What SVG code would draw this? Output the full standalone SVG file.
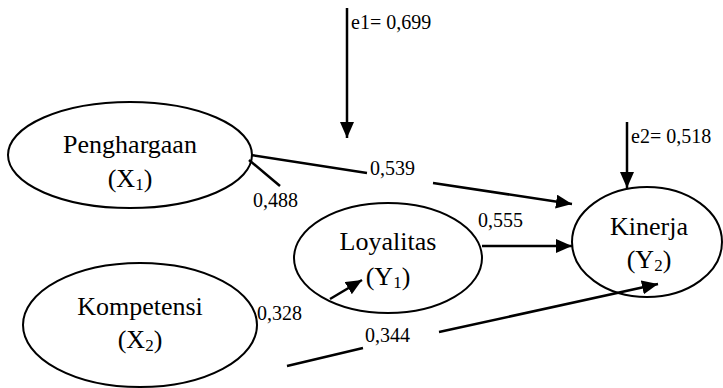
<svg xmlns="http://www.w3.org/2000/svg" width="723" height="388" viewBox="0 0 723 388">
<style>
.node{fill:none;stroke:#000;stroke-width:2}
.t{font-size:26px;fill:#000;text-anchor:middle}
.sub{font-size:17px}
.lbl{font-size:20px;fill:#000}
.c{stroke:#000;stroke-width:2.5;fill:none}
</style>
<defs>
<marker id="ah" markerUnits="userSpaceOnUse" markerWidth="17" markerHeight="15" refX="16" refY="7" orient="auto">
<path d="M0,0 L16,7 L0,14 z" fill="#000"/>
</marker>
</defs>
<rect width="723" height="388" fill="#fff"/>
<g font-family="Liberation Serif, serif">
<g id="penghargaan">
<ellipse class="node" cx="130" cy="155" rx="122" ry="53"/>
<text class="t" x="130" y="153">Penghargaan</text>
<text class="t" x="130" y="187">(X<tspan class="sub" dy="3">1</tspan><tspan dy="-3">)</tspan></text>
</g>
<g id="kompetensi">
<ellipse class="node" cx="140" cy="325" rx="117" ry="62"/>
<text class="t" x="140" y="315">Kompetensi</text>
<text class="t" x="140" y="348">(X<tspan class="sub" dy="3">2</tspan><tspan dy="-3">)</tspan></text>
</g>
<g id="loyalitas">
<ellipse class="node" cx="388" cy="258" rx="94" ry="55"/>
<text class="t" x="388" y="250">Loyalitas</text>
<text class="t" x="388" y="285">(Y<tspan class="sub" dy="3">1</tspan><tspan dy="-3">)</tspan></text>
</g>
<g id="kinerja">
<ellipse class="node" cx="647" cy="242" rx="75" ry="55"/>
<text class="t" x="649" y="235">Kinerja</text>
<text class="t" x="649" y="268">(Y<tspan class="sub" dy="3">2</tspan><tspan dy="-3">)</tspan></text>
</g>
<g id="connectors">
<line class="c" x1="347" y1="8" x2="347" y2="138" marker-end="url(#ah)"/>
<line class="c" x1="627" y1="122" x2="627" y2="188" marker-end="url(#ah)"/>
<line class="c" x1="251" y1="155" x2="367" y2="173"/>
<line class="c" x1="433" y1="183" x2="572" y2="204" marker-end="url(#ah)"/>
<line class="c" x1="249" y1="160" x2="280" y2="186"/>
<line class="c" x1="482" y1="246" x2="572" y2="246" marker-end="url(#ah)"/>
<line class="c" x1="330" y1="299" x2="362" y2="280" marker-end="url(#ah)"/>
<line class="c" x1="287" y1="366" x2="363" y2="348"/>
<line class="c" x1="439" y1="332" x2="658" y2="284" marker-end="url(#ah)"/>
</g>
<g id="labels">
<text class="lbl" x="351" y="29">e1= 0,699</text>
<text class="lbl" x="631" y="143">e2= 0,518</text>
<text class="lbl" x="370" y="175">0,539</text>
<text class="lbl" x="253" y="207">0,488</text>
<text class="lbl" x="478" y="227">0,555</text>
<text class="lbl" x="257" y="320">0,328</text>
<text class="lbl" x="365" y="342">0,344</text>
</g>
</g>
</svg>
